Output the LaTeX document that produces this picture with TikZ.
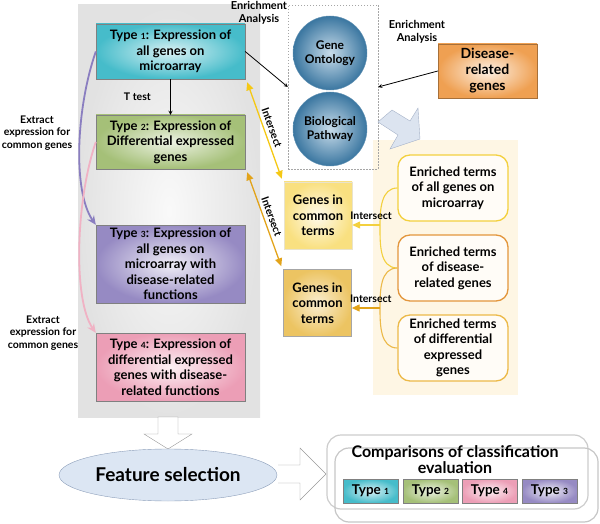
\documentclass[tikz,border=0pt]{standalone}
\usepackage{fontspec}
\setmainfont{Lato}
\usetikzlibrary{arrows.meta,shapes.geometric,positioning,calc}

\definecolor{typeone}{RGB}{70,188,202}
\definecolor{typetwo}{RGB}{165,192,120}
\definecolor{typethree}{RGB}{150,138,195}
\definecolor{typefour}{RGB}{236,158,182}
\definecolor{panelgrey}{RGB}{226,226,226}
\definecolor{panelbeige}{RGB}{254,246,228}
\definecolor{ballout}{RGB}{58,118,160}
\definecolor{ballin}{RGB}{200,220,234}
\definecolor{disease}{RGB}{239,160,82}
\definecolor{genesone}{RGB}{249,224,128}
\definecolor{genestwo}{RGB}{236,196,98}
\definecolor{isectone}{RGB}{245,200,20}
\definecolor{isecttwo}{RGB}{226,163,26}
\definecolor{termone}{RGB}{243,208,62}
\definecolor{termtwo}{RGB}{227,150,60}
\definecolor{termthree}{RGB}{236,185,72}
\definecolor{extractone}{RGB}{138,126,192}
\definecolor{extracttwo}{RGB}{240,178,196}
\definecolor{blockblue}{RGB}{220,228,240}
\definecolor{blockline}{RGB}{165,178,200}
\definecolor{selfill}{RGB}{220,230,243}
\definecolor{selline}{RGB}{140,158,185}

\newcommand{\fsz}[2]{\fontsize{#1}{#2}\selectfont}
\newcommand{\tn}[1]{{\fontsize{8.5}{8}\selectfont #1}}

\begin{document}
\begin{tikzpicture}[x=1pt,y=1pt,every node/.style={align=center,font=\bfseries}]

\useasboundingbox (0,0) rectangle (600,-524);

% box styles
\tikzstyle{typebox}=[draw=gray,minimum width=149pt,font=\bfseries\fsz{13}{15.5},inner sep=0pt]
\tikzstyle{termbox}=[draw,line width=1.3pt,rounded corners=12pt,fill=white!70!panelbeige,minimum width=110pt,minimum height=66pt,font=\bfseries\fsz{13}{15.5},inner sep=0pt]
\tikzstyle{genebox}=[minimum width=68pt,minimum height=67pt,font=\bfseries\fsz{13}{15.5},inner sep=0pt]
\tikzstyle{smalltype}=[draw=gray,minimum width=55pt,minimum height=24pt,font=\bfseries\fsz{13.5}{14},inner sep=0pt]
\tikzstyle{ball}=[circle,draw=ballout!80!white,minimum size=74pt,inner color=ballin,outer color=ballout,font=\bfseries\fsz{12}{14}]
\tikzstyle{smalllabel}=[font=\bfseries\fsz{10.5}{12.5}]
\tikzstyle{isect}=[line width=1.3pt,{Triangle[width=7pt,length=8pt]}-{Triangle[width=7pt,length=8pt]}]
\tikzstyle{termarrow}=[line width=1.3pt,-{Triangle[width=7pt,length=8pt]}]
\tikzstyle{blockarrow}=[fill=white,draw=gray!80,line join=miter]

%%%%%%%%%%%%%%%%%%%%%%%%%%%%%%%%%%%%%%%%%%%%%%%%%%%%%%%%%%%%%%%%
%
%        Panels
%
\shade[inner color=white!80!panelgrey,outer color=panelgrey] (78,-5) rectangle (260,-417);
\fill[panelbeige] (373,-140) rectangle (518,-395);

%%%%%%%%%%%%%%%%%%%%%%%%%%%%%%%%%%%%%%%%%%%%%%%%%%%%%%%%%%%%%%%%
%
%        Expression types
%
\node (t1) [typebox,minimum height=55pt,inner color=typeone!20!white,outer color=typeone] at (170.5,-51.5)
  {Type \tn{1}: Expression of\\all genes on\\microarray};
\node (t2) [typebox,minimum height=54pt,inner color=typetwo!20!white,outer color=typetwo] at (170.5,-142)
  {Type \tn{2}: Expression of\\Differential expressed\\genes};
\node (t3) [typebox,minimum height=78pt,inner color=typethree!15!white,outer color=typethree] at (170.5,-264)
  {Type \tn{3}: Expression of\\all genes on\\microarray with\\disease-related\\functions};
\node (t4) [typebox,minimum height=68pt,inner color=typefour!15!white,outer color=typefour] at (170.5,-367)
  {Type \tn{4}: Expression of\\differential expressed\\genes with disease-\\related functions};

\draw [->,>=stealth,thick] (t1.south) -- (t2.north) node[midway,left=16pt,smalllabel] {T test};

\draw [extractone,line width=1.8pt,-{Stealth[length=9pt,width=8pt]}] (t1.west) .. controls +(-20,-58) and +(-23,33) .. (t3.north west);
\draw [extracttwo,line width=1.8pt,-{Stealth[length=9pt,width=8pt]}] (t2.west) .. controls +(-20,-58) and +(-23,33) .. (t4.north west);
\node (ex1) [smalllabel] at (37,-133) {Extract\\expression for\\common genes};
\node (ex2) [smalllabel] at (43,-333) {Extract\\expression for\\common genes};

%%%%%%%%%%%%%%%%%%%%%%%%%%%%%%%%%%%%%%%%%%%%%%%%%%%%%%%%%%%%%%%%
%
%        Enrichment analysis
%
\node (enrich) [draw=gray!70,dash pattern=on 1.5pt off 1.5pt,minimum width=90pt,minimum height=164pt] at (333,-87) {};
\node (go) [ball] at (330,-53) {Gene\\Ontology};
\node (bp) [ball] at (330,-129) {Biological\\Pathway};
\node (dis) [draw=disease!70!black,minimum width=99pt,minimum height=54pt,inner color=disease!15!white,outer color=disease,font=\bfseries\fsz{14}{16}] at (487.5,-71)
  {Disease-\\related\\genes};

\node (ea1) [smalllabel,font=\bfseries\fsz{11}{12.5}] at (259,-13) {Enrichment\\Analysis};
\node (ea2) [smalllabel,font=\bfseries\fsz{11}{12.5}] at (417,-32) {Enrichment\\Analysis};

\draw [->,>=stealth,thick] (t1.east) -- (enrich.west);
\draw [->,>=stealth,thick] (dis.west) -- (enrich.east);

% block arrow to the enriched terms
\draw [fill=blockblue,draw=blockline,line join=miter] (378,-122) -- (398,-135) -- (390,-149) -- (420,-139)
  -- (418,-108) -- (410,-121) -- (392,-110) -- cycle;

%%%%%%%%%%%%%%%%%%%%%%%%%%%%%%%%%%%%%%%%%%%%%%%%%%%%%%%%%%%%%%%%
%
%        Enriched terms and common genes
%
\node (e1) [termbox,draw=termone] at (453,-188) {Enriched terms\\of all genes on\\microarray};
\node (e2) [termbox,draw=termtwo] at (453,-268) {Enriched terms\\of disease-\\related genes};
\node (e3) [termbox,draw=termthree] at (453,-348) {Enriched terms\\of differential\\expressed\\genes};

\node (g1) [genebox,draw=genesone!60!gray!40,inner color=white!85!genesone,outer color=genesone] at (318,-215.5) {Genes in\\common\\terms};
\node (g2) [genebox,draw=gray!70,inner color=white!70!genestwo,outer color=genestwo] at (317.5,-303) {Genes in\\common\\terms};

\coordinate (j1) at (380,-225);
\coordinate (j2) at (380,-308);

\draw [termone,line width=1.1pt] (e1.west) to[out=180,in=90] (j1) to[out=-90,in=180] (e2.west);
\draw [termthree,line width=1.1pt] (e2.west) to[out=180,in=90] (j2) to[out=-90,in=180] (e3.west);
\draw [termarrow,termone] (j1) -- (g1.east|-j1) node[midway,above=1pt,smalllabel,text=black,xshift=5pt] {Intersect};
\draw [termarrow,isecttwo] (j2) -- (g2.east|-j2) node[midway,above=1pt,smalllabel,text=black,xshift=5pt] {Intersect};

\draw [isect,isectone] ($(t1.south east)+(2,-3)$) -- ($(g1.north west)+(-2,3)$) node[midway,above,sloped,smalllabel,text=black] {Intersect};
\draw [isect,isecttwo] ($(t2.south east)+(2,-3)$) -- ($(g2.north west)+(-2,3)$) node[midway,above,sloped,smalllabel,text=black] {Intersect};

%%%%%%%%%%%%%%%%%%%%%%%%%%%%%%%%%%%%%%%%%%%%%%%%%%%%%%%%%%%%%%%%
%
%        Feature selection and evaluation
%
\draw [blockarrow] (158,-417) -- (158,-434) -- (144,-434) -- (168,-449) -- (192,-434) -- (178,-434) -- (178,-417) -- cycle;
\node (fs) [ellipse,draw=selline,fill=selfill,minimum width=218pt,minimum height=52pt,font=\bfseries\fsz{19}{22}] at (168,-475) {Feature selection};
\draw [blockarrow] (278,-465) -- (300,-465) -- (300,-448) -- (326,-474) -- (300,-500) -- (300,-483) -- (278,-483);

\draw [gray!40,line width=1.2pt,rounded corners=14pt] (327,-435) rectangle (588,-509);
\draw [gray!45,line width=1.2pt,rounded corners=14pt] (335,-448) rectangle (598,-522);
\node (cmp) [font=\bfseries\fsz{16}{16}] at (455,-460) {Comparisons of classification\\evaluation};

\node (s1) [smalltype,inner color=typeone!20!white,outer color=typeone] at (370.5,-491) {Type \tn{1}};
\node (s2) [smalltype,inner color=typetwo!20!white,outer color=typetwo] at (430.5,-491) {Type \tn{2}};
\node (s4) [smalltype,inner color=typefour!15!white,outer color=typefour] at (489.5,-491) {Type \tn{4}};
\node (s3) [smalltype,inner color=typethree!15!white,outer color=typethree] at (549.5,-491) {Type \tn{3}};

\end{tikzpicture}
\end{document}
